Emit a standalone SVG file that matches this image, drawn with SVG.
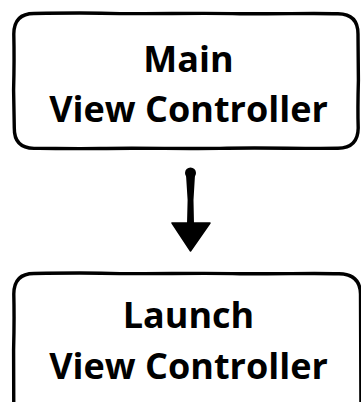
<svg xmlns="http://www.w3.org/2000/svg" width="361" height="402" viewBox="0 0 361 402">
<style>
.box{fill:#fff;stroke:#000;stroke-width:3.4;stroke-linejoin:round;stroke-linecap:round}
.lbl{font-family:"Open Sans","Noto Sans","DejaVu Sans",sans-serif;font-weight:bold;font-size:36px;fill:#000;text-anchor:middle}
</style>
<rect width="361" height="402" fill="#fff"/>
<g id="node-main">
<path class="box" d="M34,13.5 C60,13 90,12.6 120,13.6 C160,14 200,12.8 240,13.7 C280,14.2 310,13 338,13.8 Q358,14 358,34 L358.4,80 Q357.6,110 358.2,128 Q358,148 338,148.3 C300,148.8 260,147.4 220,148.4 C180,149 140,147.6 100,148.5 C70,149 50,148.2 34,148.4 Q14,148 14.3,128 L13.6,90 Q14.4,60 13.8,34 Q14,13.5 34,13.5 Z"/>
<text class="lbl" x="188.5" y="72">Main</text>
<text class="lbl" x="188.5" y="122">View Controller</text>
</g>
<g id="node-launch">
<path class="box" d="M34,273.5 C60,273 90,272.6 120,273.6 C160,274 200,272.8 240,273.7 C280,274.2 310,273 339,273.8 Q360,274 360.5,294 L361,420 L13.8,420 L13.6,350 Q14.4,320 13.8,294 Q14,273.5 34,273.5 Z"/>
<text class="lbl" x="188.5" y="328">Launch</text>
<text class="lbl" x="188.5" y="379">View Controller</text>
</g>
<g id="connectors">
<circle cx="190.5" cy="173" r="5.5" fill="#000"/>
<path d="M186,175 L195,175 L193.5,200 L194,224 L187,224 L187.6,200 Z" fill="#000"/>
<path d="M172,223 L210,223 L190.5,251 Z" fill="#000" stroke="#000" stroke-width="1.5" stroke-linejoin="round"/>
</g>
</svg>
